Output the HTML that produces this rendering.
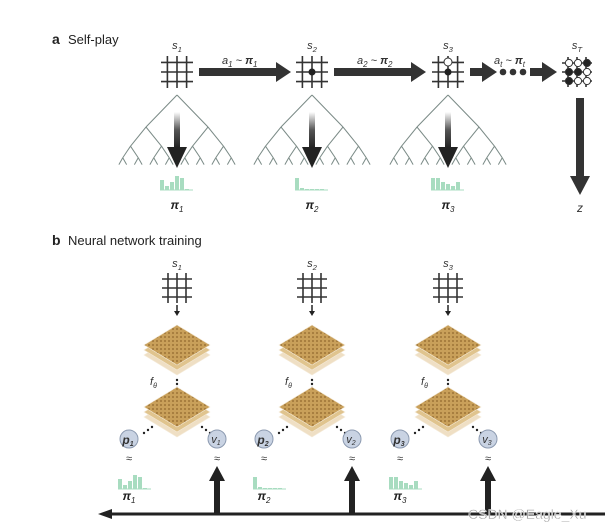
<!DOCTYPE html>
<html><head><meta charset="utf-8"><style>
html,body{margin:0;padding:0;background:#fff;width:615px;height:531px;overflow:hidden}
svg{display:block}
text{font-family:"Liberation Sans",sans-serif}
</style></head><body>
<svg id="s" width="615" height="531" viewBox="0 0 615 531" xmlns="http://www.w3.org/2000/svg">
<defs>
<linearGradient id="fade" x1="0" y1="0" x2="0" y2="1"><stop offset="0" stop-color="#fff"/><stop offset="0.5" stop-color="#555"/><stop offset="1" stop-color="#222"/></linearGradient>
<pattern id="tex" width="4" height="4" patternUnits="userSpaceOnUse"><rect width="4" height="4" fill="#c9a05a"/><rect width="2" height="2" fill="#a87f40"/></pattern>
</defs>
<text x="52" y="44" font-size="14" font-weight="bold" fill="#222">a</text>
<text x="68" y="44" font-size="13" fill="#222">Self-play</text>
<text x="52" y="245" font-size="14" font-weight="bold" fill="#222">b</text>
<text x="68" y="245" font-size="13" fill="#222">Neural network training</text>
<g id="g"></g>
</svg>
<script>
const g=document.getElementById('g');let h='';
const cols=[177,312,448];
function grid(cx,cy,w){let s='';const d=w*0.3;for(let i=-1;i<=1;i++){s+=`<line x1="${cx-w/2}" y1="${cy+i*d}" x2="${cx+w/2}" y2="${cy+i*d}" stroke="#333" stroke-width="1.6"/><line x1="${cx+i*d}" y1="${cy-w/2}" x2="${cx+i*d}" y2="${cy+w/2}" stroke="#333" stroke-width="1.6"/>`;}return s;}
function lab(x,y,t,sub,sz=11){return `<text x="${x}" y="${y}" font-size="${sz}" font-style="italic" fill="#333" text-anchor="middle">${t}<tspan font-size="${sz*0.7}" dy="3">${sub}</tspan></text>`;}
function pil(x,y,sub){return `<text x="${x}" y="${y}" font-size="12" font-weight="bold" font-style="italic" fill="#222" text-anchor="middle">π<tspan font-size="8" dy="3" font-weight="normal">${sub}</tspan></text>`;}
function hist(x,y,hs){let s='';hs.forEach((v,i)=>{s+=`<rect x="${x+i*5}" y="${y-v}" width="4" height="${v}" fill="#a8dcc0"/>`});s+=`<line x1="${x}" y1="${y}" x2="${x+hs.length*5+3}" y2="${y}" stroke="#a8dcc0"/>`;return s;}
const H=[[10,4,8,14,12,1],[12,2,1,1,1,1],[12,12,8,6,4,8]];
cols.forEach((c,k)=>{
 h+=lab(c,49,'s',k+1);
 h+=grid(c,72,32);
 const t=(x,y,dx,dy,d)=>{if(d==0)return;[-1,1].forEach(s=>{const nx=x+s*dx,ny=y+dy;h+=`<line x1="${x}" y1="${y}" x2="${nx}" y2="${ny}" stroke="#7a8a86" stroke-width="1"/>`;t(nx,ny,dx/2,dy*0.6,d-1);});};
 t(c,95,31,32,4);
 h+=`<rect x="${c-3}" y="112" width="6" height="36" fill="url(#fade)"/><polygon points="${c-10},147 ${c+10},147 ${c},168" fill="#222"/>`;
 h+=hist(c-17,190,H[k]);
 h+=pil(c,209,k+1);
});
h+=`<circle cx="312" cy="72" r="3.5" fill="#222"/>`;
h+=`<circle cx="448" cy="72" r="3.5" fill="#222"/><circle cx="448" cy="62" r="4" fill="#fff" stroke="#333"/>`;
function harr(x1,x2,y){return `<rect x="${x1}" y="${y-4}" width="${x2-x1-14}" height="8" fill="#333"/><polygon points="${x2-15},${y-10} ${x2},${y} ${x2-15},${y+10}" fill="#333"/>`;}
h+=harr(199,291,72)+harr(334,426,72)+harr(470,497,72)+harr(530,557,72);
h+=`<circle cx="503" cy="72" r="3.3" fill="#333"/><circle cx="513" cy="72" r="3.3" fill="#333"/><circle cx="523" cy="72" r="3.3" fill="#333"/>`;
h+=`<text x="222" y="64" font-size="11" font-style="italic" fill="#333">a<tspan font-size="8" dy="3">1</tspan><tspan dy="-3"> ~ </tspan><tspan font-weight="bold">π</tspan><tspan font-size="8" dy="3">1</tspan></text>`;
h+=`<text x="357" y="64" font-size="11" font-style="italic" fill="#333">a<tspan font-size="8" dy="3">2</tspan><tspan dy="-3"> ~ </tspan><tspan font-weight="bold">π</tspan><tspan font-size="8" dy="3">2</tspan></text>`;
h+=`<text x="494" y="64" font-size="11" font-style="italic" fill="#333">a<tspan font-size="8" dy="3">t</tspan><tspan dy="-3"> ~ </tspan><tspan font-weight="bold">π</tspan><tspan font-size="8" dy="3">t</tspan></text>`;
h+=lab(577,49,'s','T');
h+=grid(577,72,30);
const st=[['w','w','b'],['b','b','w'],['b','w','w']];
st.forEach((r,i)=>r.forEach((v,j)=>{h+=`<circle cx="${569+j*9}" cy="${63+i*9}" r="3.6" fill="${v=='b'?'#222':'#fff'}" stroke="#333"/>`}));
h+=`<rect x="576" y="98" width="8" height="80" fill="#333"/><polygon points="570,176 590,176 580,195" fill="#333"/>`;
h+=`<text x="580" y="212" font-size="12" font-style="italic" fill="#333" text-anchor="middle">z</text>`;
function stack(cx,cy){let s='';[[10,'#efdfc4'],[5,'#e0c48e'],[0,'url(#tex)']].forEach(([o,f])=>{s+=`<polygon points="${cx},${cy-20+o} ${cx+33},${cy+o} ${cx},${cy+20+o} ${cx-33},${cy+o}" fill="${f}" stroke="#f4ead8" stroke-width="0.6"/>`});return s;}
cols.forEach((c,k)=>{
 h+=lab(c,267,'s',k+1);
 h+=grid(c,288,30);
 h+=`<line x1="${c}" y1="305" x2="${c}" y2="312" stroke="#222" stroke-width="1.5"/><polygon points="${c-3},311 ${c+3},311 ${c},316" fill="#222"/>`;
 h+=stack(c,345);
 h+=`<text x="${c-27}" y="385" font-size="11" font-style="italic" fill="#333">f<tspan font-size="7" dy="3">θ</tspan></text>`;
 h+=`<circle cx="${c}" cy="380" r="1.2" fill="#222"/><circle cx="${c}" cy="384" r="1.2" fill="#222"/><circle cx="${c}" cy="388" r="1.2" fill="#222"/>`;
 h+=stack(c,407);
 for(let i=0;i<3;i++){h+=`<circle cx="${c-25-i*4}" cy="${427+i*3}" r="1.2" fill="#222"/><circle cx="${c+25+i*4}" cy="${427+i*3}" r="1.2" fill="#222"/>`;}
 const px=c-48,vx=c+40;
 h+=`<circle cx="${px}" cy="439" r="9" fill="#c9d3e3" stroke="#8c9ab0"/><circle cx="${vx}" cy="439" r="9" fill="#c9d3e3" stroke="#8c9ab0"/>`;
 h+=`<text x="${px-1}" y="444" font-size="12" font-weight="bold" font-style="italic" fill="#333" text-anchor="middle">p<tspan font-size="7" dy="2">${k+1}</tspan></text>`;
 h+=`<text x="${vx-1}" y="443" font-size="11" font-style="italic" fill="#333" text-anchor="middle">v<tspan font-size="7" dy="2">${k+1}</tspan></text>`;
 h+=`<text x="${px}" y="462" font-size="11" fill="#333" text-anchor="middle">≈</text><text x="${vx}" y="462" font-size="11" fill="#333" text-anchor="middle">≈</text>`;
 h+=hist(px-11,489,H[k]);
 h+=pil(px,500,k+1);
 h+=`<path d="M${vx},514 L${vx},480" stroke="#222" stroke-width="6" fill="none"/><polygon points="${vx-8},481 ${vx+8},481 ${vx},466" fill="#222"/>`;
});
h+=`<line x1="106" y1="514" x2="605" y2="514" stroke="#222" stroke-width="3"/><polygon points="98,514 112,509 112,519" fill="#222"/>`;
h+=`<text x="468" y="519" font-size="14" fill="#999" stroke="#fff" stroke-width="0.4">CSDN @Eagle_Xu</text>`;
g.innerHTML=h;
</script>
</body></html>
